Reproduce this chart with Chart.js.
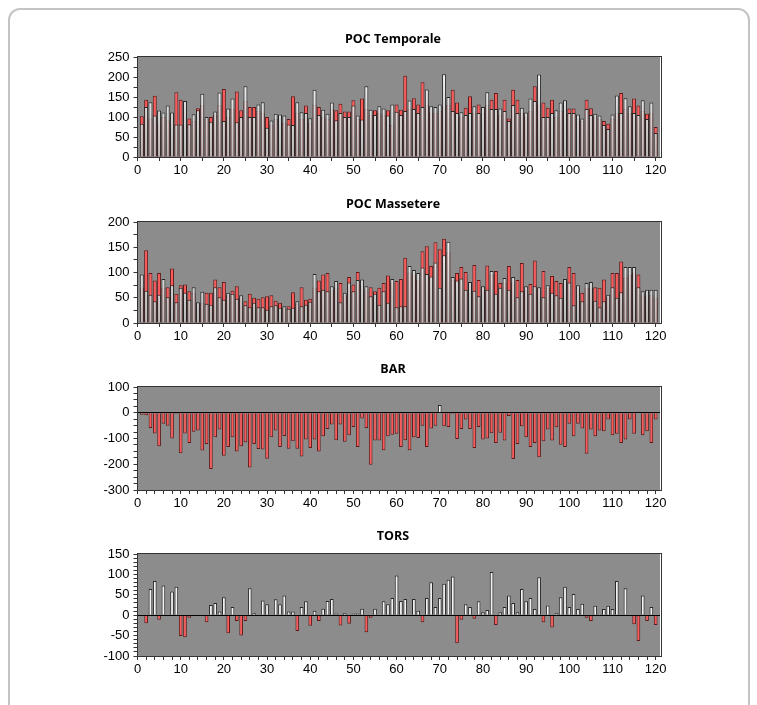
<!DOCTYPE html>
<html>
<head>
<meta charset="utf-8">
<script src="https://cdn.jsdelivr.net/npm/chart.js@4.4.1/dist/chart.umd.min.js"></script>
<style>
  body { margin: 0; background: #fff; }
  #frame { position: absolute; left: 8px; top: 8px; width: 738px; height: 720px;
           border: 2px solid #c4c4c4; border-radius: 12px; }
  canvas { position: absolute; left: 0; }
</style>
</head>
<body>
<div id="frame"></div>
<canvas id="c1" width="757" height="155" style="top:27px"></canvas>
<canvas id="c2" width="757" height="156" style="top:192px"></canvas>
<canvas id="c3" width="757" height="158" style="top:357px"></canvas>
<canvas id="c4" width="757" height="157" style="top:524px"></canvas>
<script>
// 1..120 の測定番号
const days = Array.from({ length: 120 }, (_, i) => i + 1);

// POC Temporale
const tempRed = [
  102,143,96,153,83,100,92,71,162,143,
  110,96,90,122,130,95,100,105,130,170,
  100,120,164,117,140,125,125,115,110,100,
  80,95,90,85,95,152,110,95,129,85,
  130,125,100,95,120,117,133,114,114,142,
  95,146,120,105,117,110,105,117,80,131,
  118,203,120,147,131,187,130,110,110,115,
  125,130,168,136,100,123,152,110,131,110,
  130,143,160,105,143,96,168,143,110,100,
  115,177,130,136,123,143,100,115,125,121,
  121,95,90,143,122,100,95,90,83,95,
  110,160,120,110,146,129,115,108,110,75
];
const tempWhite = [
  83,125,137,104,116,111,129,111,81,81,
  140,82,107,117,158,100,88,114,161,90,
  121,146,87,100,177,100,100,131,137,73,
  91,108,106,104,81,80,137,112,110,97,
  168,105,118,108,136,92,110,100,100,129,
  104,94,177,118,105,127,121,104,131,113,
  105,115,141,120,110,125,169,127,125,131,
  207,150,115,110,112,105,110,127,110,125,
  162,120,120,121,115,90,130,110,123,111,
  146,140,206,100,100,110,117,136,142,110,
  110,106,96,120,105,108,104,80,70,106,
  154,110,147,127,110,105,142,95,136,60
];

// POC Massetere
const massRed = [
  70,144,99,84,99,70,71,108,58,75,
  76,63,60,35,40,60,60,86,71,81,
  55,64,73,50,43,58,50,48,51,53,
  55,44,40,30,33,61,38,71,46,48,
  70,84,96,99,65,70,79,55,91,76,
  101,75,65,71,63,70,79,94,80,83,
  87,129,100,95,85,142,152,113,160,146,
  167,140,85,99,111,101,75,115,85,65,
  114,95,103,79,80,113,80,85,119,65,
  77,124,65,103,70,93,83,79,75,111,
  99,70,60,70,70,71,70,86,50,99,
  99,122,90,95,100,96,55,50,55,50
];
const massWhite = [
  96,64,56,43,56,87,51,75,41,70,
  60,46,71,41,62,38,36,71,51,46,
  60,58,48,55,35,31,40,31,31,26,
  33,35,30,33,28,30,43,33,36,42,
  97,63,66,63,73,83,41,60,80,63,
  85,86,73,53,58,36,63,40,87,31,
  33,33,113,105,99,110,97,92,120,70,
  134,161,91,84,88,66,81,64,53,73,
  66,103,58,70,89,66,91,51,63,73,
  58,73,71,51,75,60,55,50,87,80,
  35,75,43,79,81,44,31,43,56,71,
  50,61,111,111,111,71,63,66,66,66
];

// BAR
const barVals = [
  -8,-10,-59,-81,-130,-43,-50,-100,-5,-157,
  -81,-117,-74,-69,-147,-121,-218,-95,-65,-167,
  -133,-95,-150,-130,-115,-213,-121,-141,-143,-179,
  -95,-69,-133,-90,-140,-111,-140,-170,-104,-137,
  -104,-150,-91,-63,-46,-107,-46,-113,-87,-55,
  -133,-22,-59,-202,-108,-108,-146,-91,-85,-82,
  -133,-107,-146,-95,-98,-50,-133,-61,-50,30,
  -52,-55,-5,-102,-63,-26,-63,-137,-55,-104,
  -100,-80,-117,-78,-108,-13,-180,-121,-52,-95,
  -133,-117,-173,-111,-65,-108,-56,-124,-133,-43,
  -91,-43,-61,-159,-65,-91,-69,-72,-26,-87,
  -82,-117,-104,-26,-82,4,-87,-72,-117,-26
];

// TORS
const torsVals = [
  0,-20,64,84,-11,73,0,58,70,-51,
  -54,-6,2,-2,-2,-17,25,30,9,44,
  -44,20,-14,-50,-14,66,5,-2,36,27,
  -2,39,27,48,9,9,-39,20,34,-26,
  11,-14,16,35,40,4,-25,5,-21,4,
  4,16,-42,-6,16,0,34,27,42,97,
  35,40,2,40,11,-17,42,81,20,42,
  77,87,95,-69,-11,27,20,-9,34,7,
  13,106,-24,7,20,48,30,7,64,34,
  42,15,93,-17,24,-30,5,44,70,20,
  52,15,28,-6,-14,23,3,15,23,15,
  84,0,66,2,-22,-63,48,-14,20,-24
];

const RED = '#ff5858';
const RED_EDGE = '#5e1a1a';
const WHITE = '#f2f2f2';
const WHITE_EDGE = '#262626';

Chart.defaults.font.family = '"Liberation Sans", Arial, sans-serif';
Chart.defaults.font.size = 13;
Chart.defaults.color = '#000';

// 白い棒は上から下へ薄い灰色へ
function whiteFill(c) {
  const a = c.chart.chartArea;
  if (!a) return WHITE;
  const g = c.chart.ctx.createLinearGradient(0, a.top, 0, a.bottom);
  g.addColorStop(0, '#ffffff');
  g.addColorStop(1, '#b8b8b8');
  return g;
}

// 灰色の背景・枠・タイトル
const panelPlugin = {
  id: 'panel',
  beforeDraw(chart) {
    const { ctx, chartArea: a } = chart;
    ctx.save();
    ctx.fillStyle = '#8c8c8c';
    ctx.fillRect(a.left, a.top, a.right - a.left, a.bottom - a.top);
    ctx.restore();
  },
  afterDraw(chart, args, opts) {
    const { ctx, chartArea: a } = chart;
    ctx.save();
    ctx.strokeStyle = '#333';
    ctx.lineWidth = 1;
    ctx.strokeRect(Math.round(a.left) - 0.5, Math.round(a.top) - 0.5,
      Math.round(a.right - a.left) + 1, Math.round(a.bottom - a.top) + 1);
    ctx.fillStyle = '#000';
    ctx.font = 'bold 12.5px "Open Sans", sans-serif';
    ctx.textAlign = 'center';
    ctx.textBaseline = 'middle';
    ctx.fillText(opts.title, 393, a.top - 18);
    ctx.restore();
  }
};

function points(values) {
  return days.map((d, i) => ({ x: d, y: values[i] }));
}

function drawPanel(id, title, datasets, y, xStep, zeroLine) {
  new Chart(document.getElementById(id), {
    type: 'bar',
    data: { datasets: datasets },
    options: {
      responsive: false,
      animation: false,
      devicePixelRatio: 1,
      layout: { padding: { top: 30, right: 97, left: 0, bottom: 0 } },
      plugins: {
        legend: { display: false },
        tooltip: { enabled: false },
        panel: { title: title }
      },
      scales: {
        x: {
          type: 'linear',
          min: 0,
          max: 121,
          offset: false,
          grid: { offset: false, drawOnChartArea: false, tickLength: 4, tickColor: '#333' },
          border: { color: '#333' },
          ticks: {
            stepSize: xStep,
            includeBounds: false,
            autoSkip: false,
            maxTicksLimit: 1000,
            maxRotation: 0,
            padding: 2,
            callback: v => (v % 10 === 0 && v <= 120) ? v : ''
          },
          afterFit: s => { s.height = 25; }
        },
        y: {
          min: y.min,
          max: y.max,
          grid: {
            drawOnChartArea: zeroLine,
            color: c => (c.tick && c.tick.value === 0) ? '#000' : 'rgba(0,0,0,0)',
            tickLength: 4,
            tickColor: '#333'
          },
          border: { color: '#333' },
          ticks: {
            stepSize: y.step,
            autoSkip: false,
            maxTicksLimit: 1000,
            padding: 4,
            callback: v => (v % y.label === 0) ? v : ''
          },
          afterFit: s => { s.width = 137.5; }
        }
      }
    },
    plugins: [panelPlugin]
  });
}

function pairSets(red, white) {
  return [
    { data: points(white), backgroundColor: whiteFill, borderColor: WHITE_EDGE, borderWidth: 1,
      grouped: false, order: 0, barPercentage: 0.92, categoryPercentage: 1 },
    { data: points(red), backgroundColor: RED, borderColor: RED_EDGE, borderWidth: 1,
      grouped: false, order: 1, barPercentage: 0.92, categoryPercentage: 1 }
  ];
}

function signSet(values) {
  return [{
    data: points(values),
    backgroundColor: values.map(v => v < 0 ? RED : WHITE),
    borderColor: values.map(v => v < 0 ? RED_EDGE : WHITE_EDGE),
    borderWidth: 1,
    barPercentage: 0.85,
    categoryPercentage: 1
  }];
}

drawPanel('c1', 'POC Temporale', pairSets(tempRed, tempWhite), { min: 0, max: 250, step: 25, label: 50 }, 5, false);
drawPanel('c2', 'POC Massetere', pairSets(massRed, massWhite), { min: 0, max: 200, step: 25, label: 50 }, 5, false);
drawPanel('c3', 'BAR', signSet(barVals), { min: -300, max: 100, step: 25, label: 100 }, 2, true);
drawPanel('c4', 'TORS', signSet(torsVals), { min: -100, max: 150, step: 10, label: 50 }, 2, true);
</script>
</body>
</html>
